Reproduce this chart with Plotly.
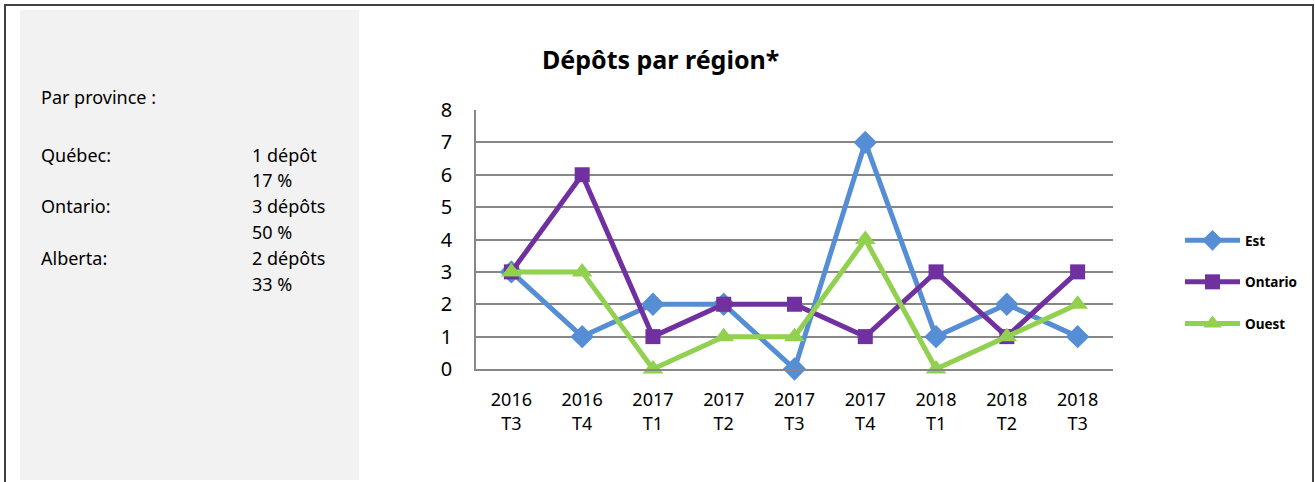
import plotly.graph_objects as go

categories = ["2016<br>T3", "2016<br>T4", "2017<br>T1", "2017<br>T2", "2017<br>T3",
              "2017<br>T4", "2018<br>T1", "2018<br>T2", "2018<br>T3"]
est = [3, 1, 2, 2, 0, 7, 1, 2, 1]
ontario = [3, 6, 1, 2, 2, 1, 3, 1, 3]
ouest = [3, 3, 0, 1, 1, 4, 0, 1, 2]

series = [
    ("Est", est, "#558ED5", "diamond", 18),
    ("Ontario", ontario, "#7030A0", "square", 15),
    ("Ouest", ouest, "#92D050", "triangle-up", 18),
]

side_labels = ["Par province :", "Québec:", "Ontario:", "Alberta:"]
side_values = ["1 dépôt", "17 %", "3 dépôts", "50 %", "2 dépôts", "33 %"]

W, H = 1315, 482
FONT = "Noto Sans"

fig = go.Figure()
for i, (name, vals, col, sym, sz) in enumerate(series):
    fig.add_trace(go.Scatter(
        x=list(range(len(categories))), y=vals, name=name, mode="lines+markers",
        line=dict(color=col, width=5),
        marker=dict(symbol=sym, size=sz, color=col),
        cliponaxis=False, legendgroup=name,
    ))

def px(x):
    return x / W

def py(y):
    return 1 - y / H

fig.update_layout(
    width=W, height=H, margin=dict(l=0, r=0, t=0, b=0, pad=0, autoexpand=False),
    paper_bgcolor="white", plot_bgcolor="white",
    font=dict(family=FONT, color="black"),
    showlegend=True,
    legend=dict(x=px(1180), y=py(282), xanchor="left", yanchor="middle",
                font=dict(family=FONT, size=13.5, color="black", weight="bold"),
                itemwidth=55, tracegroupgap=21, bgcolor="rgba(0,0,0,0)"),
    xaxis=dict(domain=[px(476), px(1113)], range=[-0.5, 8.5], automargin=False,
               tickmode="array", tickvals=list(range(len(categories))), ticktext=categories,
               showgrid=False, showline=True, linecolor="#878787", linewidth=1.5,
               ticks="", tickfont=dict(size=18), ticklabelstandoff=14, zeroline=False),
    yaxis=dict(domain=[py(369), py(110)], range=[0, 8], dtick=1, automargin=False,
               showgrid=True, gridcolor="#878787", gridwidth=1.5,
               showline=True, linecolor="#878787", linewidth=1.5,
               ticks="", tickfont=dict(size=20), ticklabelstandoff=18, zeroline=False),
)

shapes = [
    dict(type="rect", xref="paper", yref="paper", x0=px(20), x1=px(359), y0=py(480), y1=py(10),
         fillcolor="#F2F2F2", line=dict(width=0), layer="below"),
    dict(type="rect", xref="paper", yref="paper", x0=px(5), x1=px(1313), y0=py(500), y1=py(5),
         fillcolor="rgba(0,0,0,0)", line=dict(color="#404040", width=2)),
]
fig.update_layout(shapes=shapes)

ann = [dict(text="<b>Dépôts par région*</b>", x=px(660), y=py(59), xref="paper", yref="paper",
            showarrow=False, font=dict(size=25, family=FONT), xanchor="center", yanchor="middle")]
label_y = [97, 155, 206, 258]
for t, yy in zip(side_labels, label_y):
    ann.append(dict(text=t, x=px(39), y=py(yy), xref="paper", yref="paper", showarrow=False,
                    xanchor="left", yanchor="middle", font=dict(size=18, family=FONT)))
val_y = [155, 180, 206, 232, 258, 284]
for t, yy in zip(side_values, val_y):
    ann.append(dict(text=t, x=px(250), y=py(yy), xref="paper", yref="paper", showarrow=False,
                    xanchor="left", yanchor="middle", font=dict(size=18, family=FONT)))
fig.update_layout(annotations=ann)

fig.write_html("out.html", config={"displayModeBar": False},
               post_script="document.body.style.margin='0';document.body.style.overflow='hidden';")
